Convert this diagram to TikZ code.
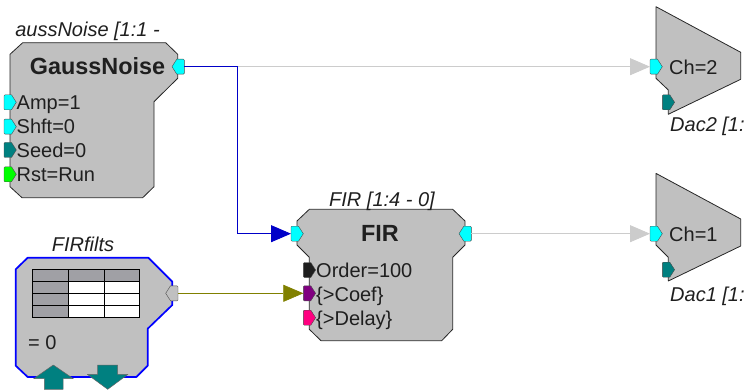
\documentclass[tikz,border=0pt]{standalone}
\usepackage{fontspec}
\setmainfont{Liberation Sans}
\usetikzlibrary{arrows.meta}
\definecolor{blockgray}{RGB}{192,192,192}
\definecolor{headgray}{RGB}{160,160,165}
\definecolor{wirelight}{RGB}{204,204,204}
\definecolor{wireblue}{RGB}{0,0,200}
\definecolor{wireolive}{RGB}{128,128,0}
\definecolor{tealport}{RGB}{0,128,128}
\definecolor{pinkport}{RGB}{255,0,128}
\definecolor{purpleport}{RGB}{128,0,128}
\definecolor{cyanport}{RGB}{0,255,255}
\definecolor{greenport}{RGB}{0,255,0}
\definecolor{darkport}{RGB}{30,30,30}
\newcommand{\lbl}{\fontsize{20}{24}\selectfont}
\newcommand{\ttl}{\fontsize{20}{24}\selectfont\itshape}
\newcommand{\hd}{\fontsize{23.4}{27}\selectfont\bfseries}
% pentagonal ports: #1 name, #2 left x, #3 centre y, #4 fill; R points right, L points left
\newcommand{\portR}[4]{\draw[portline,fill=#4] (#2+1,#3-7.5)--(#2+7.5,#3-7.5)--(#2+12.3,#3)--(#2+7.5,#3+7.5)--(#2+1,#3+7.5)--(#2,#3+6.5)--(#2,#3-6.5)--cycle;
  \coordinate (#1-w) at (#2,#3);\coordinate (#1-e) at (#2+12.3,#3);}
\newcommand{\portL}[4]{\draw[portline,fill=#4] (#2+11.3,#3-7.5)--(#2+4.8,#3-7.5)--(#2,#3)--(#2+4.8,#3+7.5)--(#2+11.3,#3+7.5)--(#2+12.3,#3+6.5)--(#2+12.3,#3-6.5)--cycle;
  \coordinate (#1-w) at (#2,#3);\coordinate (#1-e) at (#2+12.3,#3);}
\tikzset{
  x=1pt,y=-1pt,
  block/.style={draw=black!85,line width=0.8pt,fill=blockgray,line join=round},
  blueblock/.style={draw=blue,line width=1.7pt,fill=blockgray,line join=round},
  portline/.style={draw=black!70,line width=0.4pt},
  txt/.style={anchor=base west,inner sep=0pt,text=black!88},
  title/.style={anchor=base,inner sep=0pt,text=black!88},
  tri/.style={-{Triangle[length=20pt,width=17pt]}},
  tablebox/.style={draw=black,line width=0.9pt},
  bigarrow/.style={draw=black!60,line width=0.5pt,fill=tealport,line join=round},
}
\begin{document}
\begin{tikzpicture}
\useasboundingbox (0,0) rectangle (749,390);
% blocks
\draw[block] (22.7,42.7)--(165.7,42.7)--(177.7,54.3)--(177.7,78.3)--(154,101.7)--(154,186.7)--(142.7,197.7)--(22,197.7)--(10,186.7)--(10,54.3)--cycle;
\draw[block] (309.3,209.3)--(452.7,209.3)--(465,221)--(465,245)--(452.7,257.3)--(452.7,329.3)--(441.7,340.7)--(321,340.7)--(309.3,329.3)--(309.3,257.3)--(297,245)--(297,221)--cycle;
\draw[blueblock] (27.7,257.7)--(148.3,257.7)--(172.3,281.7)--(172.3,305)--(147.7,328.7)--(147.7,365.7)--(136.3,377)--(27.7,377)--(15.7,365.7)--(15.7,269.3)--cycle;
\draw[block] (656,6.7)--(740.7,52.3)--(740.7,79.3)--(668.3,114.3)--(668.3,90)--(656,78.3)--cycle;
\draw[block] (656,173.4)--(740.7,219)--(740.7,246)--(668.3,281)--(668.3,257.3)--(656,245)--cycle;
% FIRfilts table
\fill[white] (68,281.7) rectangle (139.7,317.7);
\fill[headgray] (32,269.7) rectangle (139.7,281.7);
\fill[headgray] (32,281.7) rectangle (68,317.7);
\draw[tablebox] (32,269.7) rectangle (139.7,317.7);
\draw[tablebox] (32,281.7)--(139.7,281.7) (32,293.7)--(139.7,293.7) (32,305.7)--(139.7,305.7);
\draw[tablebox] (68,269.7)--(68,317.7) (104,269.7)--(104,317.7);
% big arrows
\draw[bigarrow] (53.3,365)--(73.3,378.7)--(63,378.7)--(63,389.3)--(44.3,389.3)--(44.3,378.7)--(33.7,378.7)--cycle;
\draw[bigarrow] (97.7,365)--(117.7,365)--(117.7,374.3)--(128,374.3)--(107.7,389.3)--(87.3,374.3)--(97.7,374.3)--cycle;
% ports
\portL{gnOut}{172}{66.7}{cyanport}
\portR{gnAmp}{4}{102.3}{cyanport}
\portR{gnShft}{4}{126.7}{cyanport}
\portR{gnSeed}{4}{150}{tealport}
\portR{gnRst}{4}{174.3}{greenport}
\portL{ffOut}{165.7}{293.3}{blockgray}
\portR{firIn}{291}{233.7}{cyanport}
\portL{firOut}{459}{233.7}{cyanport}
\portR{firOrder}{303.3}{270}{darkport}
\portR{firCoef}{303.3}{293.3}{purpleport}
\portR{firDelay}{303.3}{317.7}{pinkport}
\portR{dacTwoIn}{650}{66.7}{cyanport}
\portR{dacTwoGnd}{662.3}{102.3}{tealport}
\portR{dacOneIn}{650}{233.7}{cyanport}
\portR{dacOneGnd}{662.3}{269.7}{tealport}
% connectors
\coordinate (branch) at (237.5,66.7);
\draw[wirelight,line width=0.9pt,tri] (branch) -- (dacTwoIn-w);
\draw[wireblue,line width=0.9pt] (gnOut-e) -- (branch);
\draw[wireblue,line width=0.9pt,tri] (branch) |- (firIn-w);
\draw[wirelight,line width=0.9pt,tri] (firOut-e) -- (dacOneIn-w);
\draw[wireolive,line width=0.6pt,tri] (ffOut-e) -- (firCoef-w);
% labels
\begin{scope}
\clip (15,10) rectangle (200,42);
\node[title,anchor=base east,font=\ttl] (gnTitle) at (160,36.7) {aussNoise [1:1 -};
\end{scope}
\node[title,font=\hd] (gnName) at (97.5,74.3) {GaussNoise};
\node[txt,font=\lbl] (gnA) at (16.5,110) {Amp=1};
\node[txt,font=\lbl] (gnB) at (16.5,133.3) {Shft=0};
\node[txt,font=\lbl] (gnC) at (16.5,157.7) {Seed=0};
\node[txt,font=\lbl] (gnD) at (16.5,181.7) {Rst=Run};
\node[title,font=\ttl] (firTitle) at (382,206.7) {FIR [1:4 - 0]};
\node[title,font=\hd] (firName) at (380,241.7) {FIR};
\node[txt,font=\lbl] (firA) at (316,277.7) {Order=100};
\node[txt,font=\lbl] (firB) at (316,301.7) {\{>Coef\}};
\node[txt,font=\lbl] (firC) at (316,325) {\{>Delay\}};
\node[title,font=\ttl] (ffTitle) at (83,251.7) {FIRfilts};
\node[txt,font=\lbl] (ffVal) at (28,349) {= 0};
\node[txt,font=\lbl] (dacTwoCh) at (669,75) {Ch=2};
\node[txt,font=\lbl] (dacOneCh) at (669,241.7) {Ch=1};
\node[txt,font=\ttl] (dacTwoTitle) at (670,131.7) {Dac2 [1:};
\node[txt,font=\ttl] (dacOneTitle) at (670,301) {Dac1 [1:};
\end{tikzpicture}
\end{document}
